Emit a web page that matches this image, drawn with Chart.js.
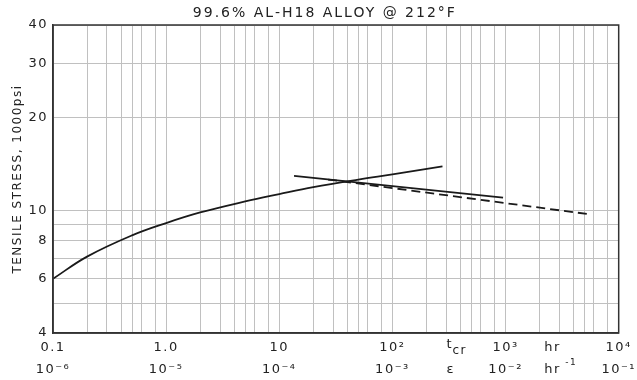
<!DOCTYPE html>
<html>
<head>
<meta charset="utf-8">
<script src="https://cdn.jsdelivr.net/npm/chart.js@4.4.4/dist/chart.umd.min.js"></script>
<style>
  html, body { margin: 0; padding: 0; background: #fff; }
  #wrap { width: 637px; height: 380px; }
</style>
</head>
<body>
<div id="wrap"><canvas id="chart"></canvas></div>
<script>
// ── Data ───────────────────────────────────────────────────────────────────
const TITLE   = '99.6% AL-H18 ALLOY @ 212°F';
const Y_TITLE = 'TENSILE STRESS, 1000psi';

// rupture curve, stress vs t_cr (hr)
const riseX = [0.1, 0.2, 0.5, 1, 2, 5, 10, 20, 50, 100, 277];
const riseY = [6.0, 7.08, 8.3, 9.1, 9.85, 10.7, 11.3, 11.9, 12.6, 13.1, 13.9];

// creep-rate lines, stress vs ε (hr⁻¹ scale)
const fallX = [13.5, 950];
const fallY = [12.95, 11.0];
const dashX = [27, 5700];
const dashY = [12.6, 9.7];

// axes
const xDecades = [0.1, 1, 10, 100, 1000, 10000];
const xTopLbl  = ['0.1', '1.0', '10', '10²', '10³', '10⁴'];
const xBotLbl  = ['10⁻⁶', '10⁻⁵', '10⁻⁴', '10⁻³', '10⁻²', '10⁻¹'];
const xMinor   = [2, 3, 4, 5, 6, 8];
const yGrid    = [4, 5, 6, 7, 8, 9, 10, 20, 30, 40];
const yLabels  = [4, 6, 8, 10, 20, 30, 40];
const unitAt   = [300, 2200];   // where the unit captions sit on the x scale

// ── Helpers ────────────────────────────────────────────────────────────────
const INK  = '#222';
const GRID = '#c0c0c0';
const FONT = 'DejaVu Sans';

const pts = (xs, ys) => xs.map((x, i) => ({ x, y: ys[i] }));
const near = (a, b) => Math.abs(a - b) / b < 1e-6;

const xGridVals = [];
xDecades.forEach((d, i) => {
  xGridVals.push(d);
  if (i < xDecades.length - 1) xMinor.forEach(m => xGridVals.push(d * m));
});

const frame = {
  id: 'frame',
  beforeDraw(chart) { chart.ctx.letterSpacing = '1.5px'; },
  afterDraw(chart) {
    const { ctx, chartArea: a, scales: { x } } = chart;
    ctx.save();
    ctx.strokeStyle = '#333';
    ctx.lineWidth = 1.5;
    ctx.strokeRect(a.left, a.top, a.right - a.left, a.bottom - a.top);

    ctx.fillStyle = INK;
    ctx.textBaseline = 'middle';

    // title, sits a little left of the plot centre as in the original
    ctx.textAlign = 'center';
    ctx.letterSpacing = '2px';
    ctx.font = `14px "${FONT}"`;
    ctx.fillText(TITLE, chart.width * 0.51, 13);
    ctx.letterSpacing = '1.5px';

    // unit captions between the decade labels
    const r1 = x.top + 15, r2 = x.top + 37;
    const u1 = x.getPixelForValue(unitAt[0]);
    const u2 = x.getPixelForValue(unitAt[1]);
    ctx.textAlign = 'left';
    ctx.font = `13px "${FONT}"`;
    ctx.fillText('t', u1, r1 - 3);
    ctx.fillText('ε', u1, r2);
    ctx.fillText('hr', u2, r1);
    ctx.fillText('hr', u2, r2);
    ctx.font = `12px "${FONT}"`;
    ctx.fillText('cr', u1 + 6, r1 + 3);
    ctx.font = `9px "${FONT}"`;
    ctx.fillText('-1', u2 + 21, r2 - 7);
    ctx.restore();
  },
};

// ── Chart ──────────────────────────────────────────────────────────────────
const lineStyle = { borderColor: '#1a1a1a', borderWidth: 1.8, pointRadius: 0, fill: false };

new Chart(document.getElementById('chart'), {
  type: 'line',
  data: {
    datasets: [
      { ...lineStyle, label: 'rupture', data: pts(riseX, riseY), tension: 0.4 },
      { ...lineStyle, label: 'creep',   data: pts(fallX, fallY) },
      { ...lineStyle, label: 'creep2',  data: pts(dashX, dashY), borderDash: [9, 5] },
    ],
  },
  options: {
    responsive: true,
    maintainAspectRatio: false,
    animation: false,
    layout: { padding: { left: 0, right: 16, top: 25, bottom: 0 } },
    plugins: {
      legend: { display: false },
      tooltip: { enabled: false },
      title: { display: false },
    },
    scales: {
      x: {
        type: 'logarithmic', min: 0.1, max: 10000,
        afterBuildTicks: s => { s.ticks = xGridVals.map(value => ({ value })); },
        afterFit: s => { s.height = 47; },
        ticks: {
          autoSkip: false, maxRotation: 0, padding: 4, color: INK,
          font: { family: FONT, size: 13, lineHeight: '22px' },
          callback: v => {
            const i = xDecades.findIndex(d => near(v, d));
            return i < 0 ? '' : [xTopLbl[i], xBotLbl[i]];
          },
        },
        grid: { color: GRID, lineWidth: 1, drawTicks: false },
        border: { color: '#333', width: 1.5 },
      },
      y: {
        type: 'logarithmic', min: 4, max: 40,
        afterBuildTicks: s => { s.ticks = yGrid.map(value => ({ value })); },
        afterFit: s => { s.width = 53; },
        ticks: {
          autoSkip: false, padding: 5, color: INK,
          font: { family: FONT, size: 13 },
          callback: v => (yLabels.some(l => near(v, l)) ? String(v) : ''),
        },
        grid: { color: GRID, lineWidth: 1, drawTicks: false },
        border: { color: '#333', width: 1.5 },
        title: {
          display: true, text: Y_TITLE, color: INK,
          font: { family: FONT, size: 12 },
          padding: { top: 11, bottom: 0 },
        },
      },
    },
  },
  plugins: [frame],
});
</script>
</body>
</html>
